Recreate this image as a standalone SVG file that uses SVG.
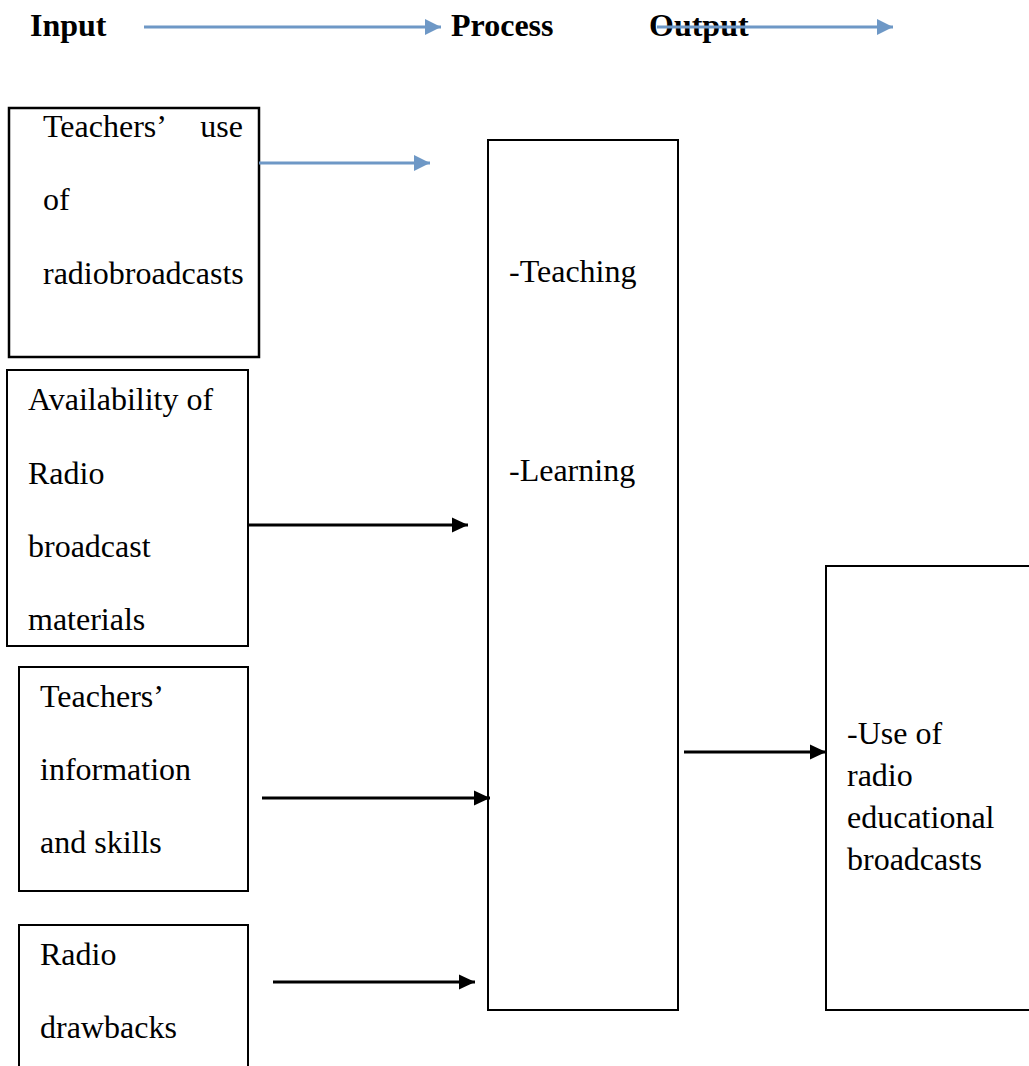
<svg xmlns="http://www.w3.org/2000/svg" width="1029" height="1066" viewBox="0 0 1029 1066">
<style>
text{font-family:'Liberation Serif','Times New Roman',serif;font-size:32px;fill:#000}
.hd{font-weight:bold}
.box{fill:none;stroke:#000;stroke-width:2}
.blue{stroke:#6e98c6;stroke-width:3;fill:none}
.blk{stroke:#000;stroke-width:3;fill:none}
</style>
<defs>
<marker id="ab" markerUnits="userSpaceOnUse" markerWidth="18" markerHeight="16" refX="16" refY="8" orient="auto"><path d="M0,0 L16,8 L0,16 Z" fill="#6e98c6"/></marker>
<marker id="ak" markerUnits="userSpaceOnUse" markerWidth="18" markerHeight="16" refX="16" refY="8" orient="auto"><path d="M0,0.5 L16,8 L0,15.5 Z" fill="#000"/></marker>
</defs>
<rect width="1029" height="1066" fill="#fff"/>
<g id="header">
<text class="hd" x="30" y="36">Input</text>
<text class="hd" x="451" y="36">Process</text>
<text class="hd" x="649" y="36">Output</text>
</g>
<g id="n1">
<rect class="box" x="9" y="108" width="250" height="249" style="stroke-width:2.5"/>
<text x="43" y="137">Teachers’</text>
<text x="243" y="137" text-anchor="end">use</text>
<text x="43" y="210">of</text>
<text x="43" y="284">radiobroadcasts</text>
</g>
<g id="n2">
<rect class="box" x="7" y="370" width="241" height="276"/>
<text x="28" y="410">Availability of</text>
<text x="28" y="484">Radio</text>
<text x="28" y="557">broadcast</text>
<text x="28" y="630">materials</text>
</g>
<g id="n3">
<rect class="box" x="19" y="667" width="229" height="224"/>
<text x="40" y="707">Teachers’</text>
<text x="40" y="780">information</text>
<text x="40" y="853">and skills</text>
</g>
<g id="n4">
<rect class="box" x="19" y="925" width="229" height="160"/>
<text x="40" y="965">Radio</text>
<text x="40" y="1038">drawbacks</text>
</g>
<g id="process">
<rect class="box" x="488" y="140" width="190" height="870"/>
<text x="509" y="282">-Teaching</text>
<text x="509" y="481">-Learning</text>
</g>
<g id="output">
<rect class="box" x="826" y="566" width="220" height="444"/>
<text x="847" y="744">-Use of</text>
<text x="847" y="786">radio</text>
<text x="847" y="828">educational</text>
<text x="847" y="870">broadcasts</text>
</g>
<g id="connectors">
<line class="blue" x1="144" y1="27" x2="441" y2="27" marker-end="url(#ab)"/>
<line class="blue" x1="657" y1="27" x2="893" y2="27" marker-end="url(#ab)"/>
<line class="blue" x1="259" y1="163" x2="430" y2="163" marker-end="url(#ab)"/>
<line class="blk" x1="248" y1="525" x2="468" y2="525" marker-end="url(#ak)"/>
<line class="blk" x1="262" y1="798" x2="490" y2="798" marker-end="url(#ak)"/>
<line class="blk" x1="273" y1="982" x2="475" y2="982" marker-end="url(#ak)"/>
<line class="blk" x1="684" y1="752" x2="826" y2="752" marker-end="url(#ak)"/>
</g>
</svg>
